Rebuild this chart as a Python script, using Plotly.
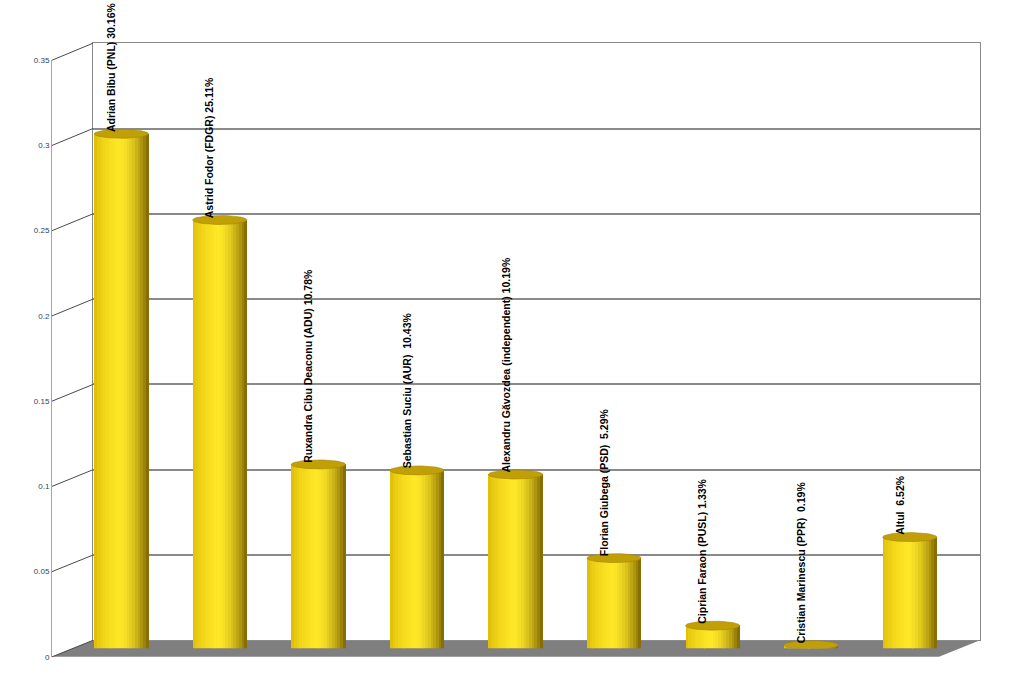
import numpy as np
import plotly.graph_objects as go

# ---------------- data ----------------
candidates = ["Adrian Bibu (PNL)", "Astrid Fodor (FDGR)", "Ruxandra Cibu Deaconu (ADU)",
              "Sebastian Suciu (AUR)", "Alexandru Găvozdea (independent)", "Florian Giubega (PSD)",
              "Ciprian Faraon (PUSL)", "Cristian Marinescu (PPR)", "Altul"]
shares = [0.3016, 0.2511, 0.1078, 0.1043, 0.1019, 0.0529, 0.0133, 0.0019, 0.0652]
label_pct = ["30.16%", "25.11%", "10.78%", "10.43%", "10.19%", "5.29%", "1.33%", "0.19%", "6.52%"]
label_sep = [" ", " ", " ", "\u00a0 ", " ", "\u00a0 ", " ", "\u00a0 ", "\u00a0 "]
tick_vals = [0, 0.05, 0.1, 0.15, 0.2, 0.25, 0.3, 0.35]
tick_text = ["0", "0.05", "0.1", "0.15", "0.2", "0.25", "0.3", "0.35"]

# ---------------- geometry (pixels) ----------------
W, H = 1024, 683
YMAX = 0.35
def fx(px): return px / W
def cy(py): return (py - 3.8) / 0.9866   # compensate observed vertical squeeze
def fy(py): return 1 - cy(py) / H

back_l, back_r, back_b, back_t = 93, 980, 640, 43
front_l, front_r, front_b, front_t = 52, 939, 656.5, 60
bar_l, bar_r, bar_b = 72, 959, 648
bar_scale_px = (back_b - back_t) / YMAX
bar_t = bar_b - YMAX * bar_scale_px

BAR_W = 0.55                       # in category units
RY = 4.5 / bar_scale_px            # ellipse half height in data units
N_STRIPS = 20

fig = go.Figure()

fig.add_trace(go.Scatter(x=[0.5], y=[0], mode="markers", opacity=0, hoverinfo="skip",
                         showlegend=False, xaxis="x", yaxis="y"))
fig.add_trace(go.Scatter(x=[0.5], y=[0], mode="markers", opacity=0, hoverinfo="skip",
                         showlegend=False, xaxis="x3", yaxis="y3"))

# cylinder strips
x_idx = np.arange(len(shares))
vals = np.array(shares)
dark_l = np.array([215, 180, 0])
bright = np.array([255, 232, 40])
dark_r = np.array([125, 100, 0])
for k in range(N_STRIPS):
    t0 = k / N_STRIPS
    t = (k + 0.5) / N_STRIPS
    u = 2 * t - 1
    s = np.sqrt(max(0.0, 1 - u * u))
    if t < 0.45:
        a = (t / 0.45) ** 0.5
        c = dark_l + (bright - dark_l) * a
    else:
        a = ((t - 0.45) / 0.55) ** 1.8
        c = bright + (dark_r - bright) * a
    col = "rgb(%d,%d,%d)" % tuple(int(v) for v in c)
    base = -RY * s
    fig.add_trace(go.Bar(
        x=x_idx, y=vals - base, base=[base] * len(vals),
        width=BAR_W / N_STRIPS * 1.05, offset=-BAR_W / 2 + t0 * BAR_W,
        marker=dict(color=col, line=dict(width=0)),
        hoverinfo="skip", showlegend=False, xaxis="x2", yaxis="y2"))

# top ellipses
theta = np.linspace(0, 2 * np.pi, 60)
ex, ey = [], []
for i, v in enumerate(shares):
    ex += list(i + BAR_W / 2 * np.cos(theta)) + [None]
    ey += list(v + RY * np.sin(theta)) + [None]
fig.add_trace(go.Scatter(x=ex, y=ey, mode="lines", fill="toself",
                         fillcolor="rgb(192,160,6)", line=dict(color="rgb(165,136,0)", width=0.6),
                         hoverinfo="skip", showlegend=False, xaxis="x2", yaxis="y2"))

# labels
annotations = []
for i, (c, sep, p, v) in enumerate(zip(candidates, label_sep, label_pct, shares)):
    annotations.append(dict(
        x=i, y=v, xref="x2", yref="y2", text="<b>" + c + sep + p + "</b>", textangle=-90,
        showarrow=False, xanchor="center", yanchor="bottom", xshift=-10, yshift=1,
        borderpad=0, font=dict(family="Liberation Sans, Arial", size=10.5, color="black")))

# floor + left wall diagonals
shapes = []
floor = "M %f %f L %f %f L %f %f L %f %f Z" % (
    fx(front_l), fy(front_b), fx(front_r), fy(front_b),
    fx(back_r), fy(back_b), fx(back_l), fy(back_b))
shapes.append(dict(type="path", path=floor, xref="paper", yref="paper",
                   fillcolor="#7f7f7f", line=dict(width=0), layer="below"))
front_scale = (front_b - front_t) / YMAX
for v in tick_vals:
    shapes.append(dict(type="line", xref="paper", yref="paper",
                       x0=fx(front_l), y0=fy(front_b - v * front_scale),
                       x1=fx(back_l), y1=fy(back_b - v * bar_scale_px),
                       line=dict(color="#4a4a4a", width=1), layer="above"))

fig.update_layout(
    width=W, height=H, margin=dict(l=0, r=0, t=0, b=0),
    paper_bgcolor="white", plot_bgcolor="rgba(0,0,0,0)",
    barmode="overlay", bargap=0, showlegend=False,
    xaxis=dict(domain=[fx(back_l), fx(back_r)], range=[0, 1], showgrid=False, zeroline=False,
               showticklabels=False, ticks="", showline=True, mirror=True,
               linecolor="#8a8a8a", linewidth=1, anchor="y", fixedrange=True),
    yaxis=dict(domain=[fy(back_b), fy(back_t)], range=[0, YMAX], tickvals=tick_vals,
               showgrid=True, gridcolor="#8a8a8a", gridwidth=1.5, zeroline=False,
               showticklabels=False, ticks="", showline=True, mirror=True,
               linecolor="#8a8a8a", linewidth=1, anchor="x", fixedrange=True),
    xaxis2=dict(domain=[fx(bar_l), fx(bar_r)], range=[-0.5, 8.5], visible=False, anchor="y2"),
    yaxis2=dict(domain=[fy(bar_b), fy(bar_t)], range=[0, YMAX], visible=False, anchor="x2"),
    xaxis3=dict(domain=[fx(front_l), fx(front_r)], range=[0, 1], visible=False, anchor="y3"),
    yaxis3=dict(domain=[fy(front_b), fy(front_t)], range=[0, YMAX], anchor="x3",
                tickvals=tick_vals, ticktext=tick_text, showgrid=False, zeroline=False,
                showline=True, linecolor="#a6a6a6", linewidth=1, ticks="",
                tickfont=dict(family="Liberation Sans, Arial", size=8, color="#2f3f5f")),
    annotations=annotations, shapes=shapes,
)

fig.write_html("out.html", config={"displayModeBar": False},
               post_script="document.body.style.margin='0';document.body.style.overflow='hidden';"
                           "document.documentElement.style.overflow='hidden';")
